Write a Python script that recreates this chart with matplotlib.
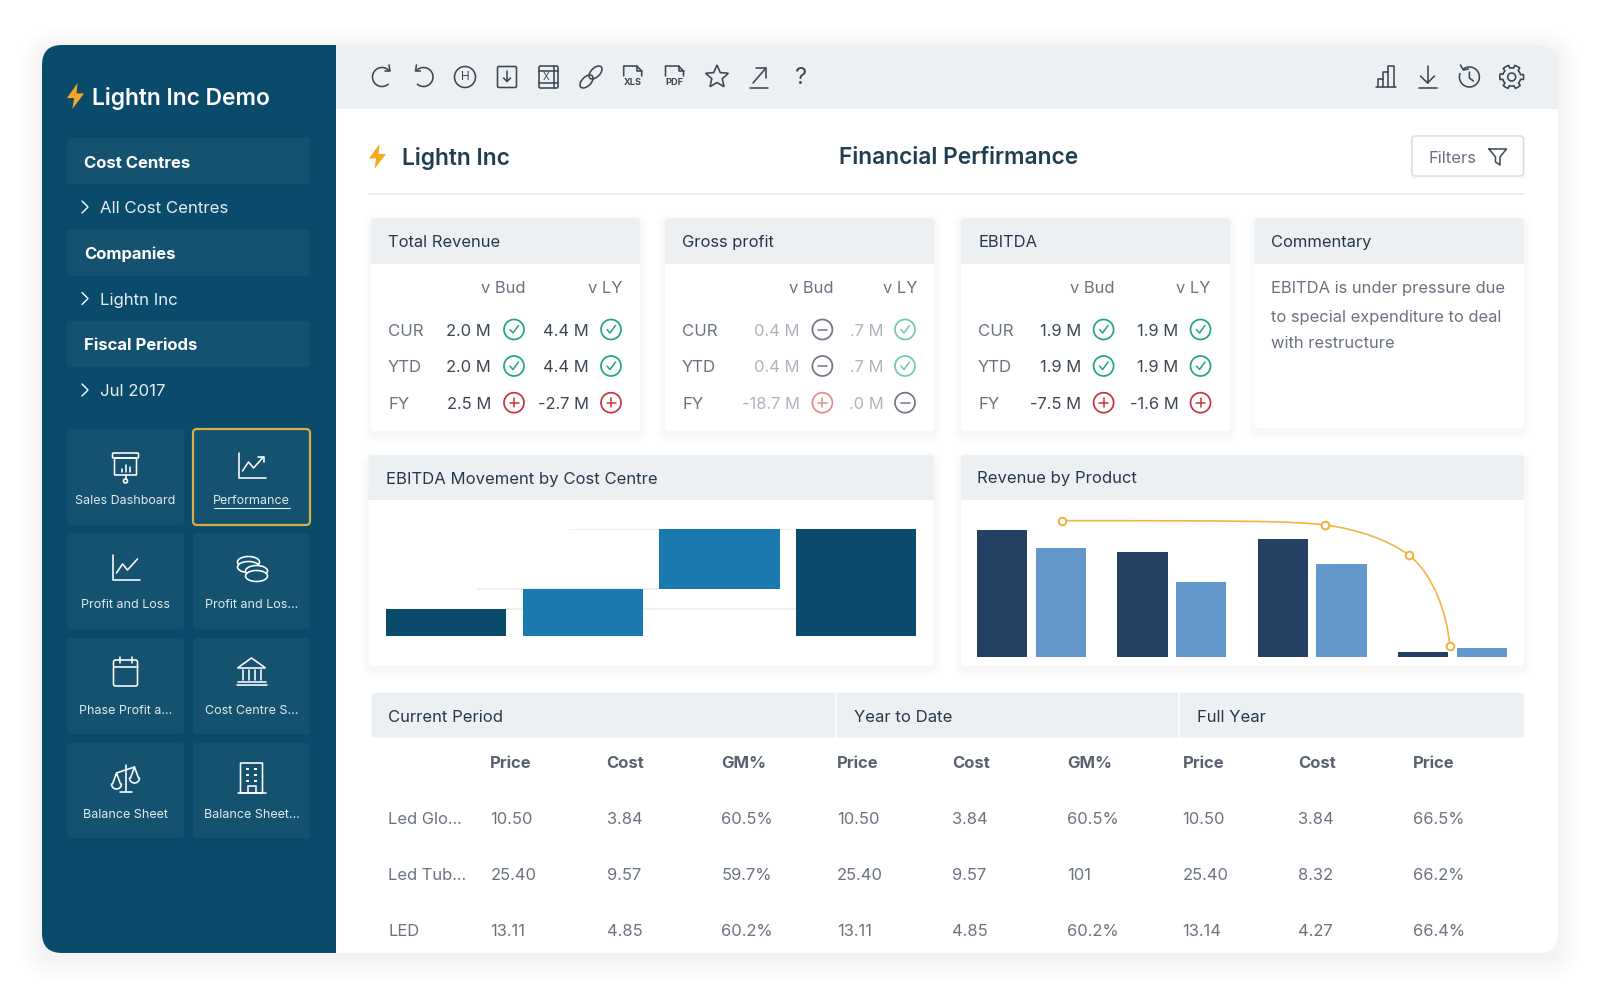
import numpy as np
import matplotlib
matplotlib.use("Agg")
import matplotlib.pyplot as plt
from matplotlib.patches import FancyBboxPatch, Rectangle, Circle, Ellipse, Polygon, PathPatch
from matplotlib.path import Path

plt.rcParams["font.family"] = ["Inter", "DejaVu Sans"]

# KPI cards
kpi_rows = ["CUR", "YTD", "FY"]
revenue_bud = ["2.0 M", "2.0 M", "2.5 M"]
revenue_ly = ["4.4 M", "4.4 M", "-2.7 M"]
revenue_bud_state = ["ok", "ok", "bad"]
revenue_ly_state = ["ok", "ok", "bad"]
gross_bud = ["0.4 M", "0.4 M", "-18.7 M"]
gross_ly = [".7 M", ".7 M", ".0 M"]
gross_bud_state = ["flat", "flat", "bad"]
gross_ly_state = ["ok", "ok", "flat"]
ebitda_bud = ["1.9 M", "1.9 M", "-7.5 M"]
ebitda_ly = ["1.9 M", "1.9 M", "-1.6 M"]
ebitda_bud_state = ["ok", "ok", "bad"]
ebitda_ly_state = ["ok", "ok", "bad"]
commentary = ["EBITDA is under pressure due", "to special expenditure to deal", "with restructure"]

# charts
movement_bottom = [0, 0, 47, 0]
movement_height = [26.7, 47, 59.7, 106.7]
product_dark = [127, 104.7, 118, 4.7]
product_light = [108.7, 74.7, 93, 9]
line_x = [0.22, 2.09, 2.69, 2.98]
line_y = [136, 131.7, 101.7, 11]

# table
table_groups = ["Current Period", "Year to Date", "Full Year"]
table_cols = ["Price", "Cost", "GM%", "Price", "Cost", "GM%", "Price", "Cost", "Price"]
table_names = ["Led Glo...", "Led Tub...", "LED"]
table_row1 = ["10.50", "3.84", "60.5%", "10.50", "3.84", "60.5%", "10.50", "3.84", "66.5%"]
table_row2 = ["25.40", "9.57", "59.7%", "25.40", "9.57", "101", "25.40", "8.32", "66.2%"]
table_row3 = ["13.11", "4.85", "60.2%", "13.11", "4.85", "60.2%", "13.14", "4.27", "66.4%"]

# sidebar
menu_heads = ["Cost Centres", "Companies", "Fiscal Periods"]
menu_items = ["All Cost Centres", "Lightn Inc", "Jul 2017"]
tile_labels = ["Sales Dashboard", "Performance", "Profit and Loss", "Profit and Los...",
               "Phase Profit a...", "Cost Centre S...", "Balance Sheet", "Balance Sheet..."]

NAVY = "#0a4a6b"
TILE = "#15526f"
PANEL = "#edf0f3"
INK = "#27384a"
GREY = "#6a7280"
ICON = "#3a4754"
BOLT = "#f7a823"
BODY = 11.9

fig = plt.figure(figsize=(16, 10), dpi=100, facecolor="white")
ui = fig.add_axes([0, 0, 1, 1])
ui.set_xlim(0, 1600)
ui.set_ylim(1000, 0)
ui.axis("off")


def box(x0, y0, x1, y1, color, r=4, z=1, ec="none", lw=0, alpha=None, clip=None):
    p = FancyBboxPatch((x0, y0), x1 - x0, y1 - y0, boxstyle=f"round,pad=0,rounding_size={r}",
                       fc=color, ec=ec, lw=lw, zorder=z, alpha=alpha)
    ui.add_patch(p)
    if clip is not None:
        p.set_clip_path(clip)
    return p


def shadow(x0, y0, x1, y1, r=4, spread=8, alpha=0.003, dy=4, z=0.5):
    for s in range(spread, 0, -1):
        box(x0 - s, y0 - s + dy, x1 + s, y1 + s + dy, "#2a3a4a", r=r + s, z=z, alpha=alpha)


def t(x, y, s, size=BODY, color=INK, weight="normal", ha="left", z=6, **kw):
    # text sits a little lower than its box centre in the reference
    return ui.text(x, y + 1.5, s, fontsize=size, color=color, fontweight=weight, ha=ha, va="center", zorder=z, **kw)


def ln(xs, ys, color=ICON, lw=1.15, z=6):
    ui.plot(xs, ys, color=color, lw=lw, zorder=z, solid_capstyle="round", solid_joinstyle="round")


def arc(x, y, r, a0, a1, color=ICON, lw=1.15):
    a = np.radians(np.linspace(a0, a1, 40))
    ln(x + r * np.cos(a), y - r * np.sin(a), color, lw)


def outline(x0, y0, x1, y1, color=ICON, lw=1.15, r=1.5):
    box(x0, y0, x1, y1, "none", r=r, z=6, ec=color, lw=lw)


def ring(x, y, r, color=ICON, lw=1.15):
    ui.add_patch(Circle((x, y), r, fc="none", ec=color, lw=lw, zorder=6))


def bolt(x0, y0, w, h):
    pts = [(0.62, 0), (0, 0.58), (0.42, 0.58), (0.32, 1), (1, 0.4), (0.56, 0.4)]
    ui.add_patch(Polygon([(x0 + a * w, y0 + b * h) for a, b in pts], fc=BOLT, ec="none", zorder=6))


# toolbar icons
def ic_redo(x, y):
    arc(x, y, 9.5, 45, 310)
    ln([x + 7, x + 8, x + 3], [y - 12, y - 6, y - 6])


def ic_undo(x, y):
    arc(x, y, 9.5, 135, -130)
    ln([x - 7, x - 8, x - 3], [y - 12, y - 6, y - 6])


def ic_home(x, y):
    ring(x, y, 10.5)
    t(x, y - 1.5, "H", 8.5, ICON, ha="center")


def ic_save(x, y):
    outline(x - 9.5, y - 10.5, x + 9.5, y + 10.5)
    ln([x, x], [y - 6, y + 4])
    ln([x - 3.5, x, x + 3.5], [y + 1, y + 4.5, y + 1])


def ic_excel(x, y):
    outline(x - 9.5, y - 11, x + 9.5, y + 11)
    ln([x - 9.5, x + 9.5], [y - 6, y - 6])
    ln([x - 9.5, x + 9.5], [y + 6, y + 6])
    ln([x + 5, x + 5], [y - 11, y + 11])
    t(x - 2, y - 1.5, "X", 7, ICON, ha="center")


def ic_link(x, y):
    for dx in (-4.5, 4.5):
        ui.add_patch(Ellipse((x + dx, y - dx), 16, 9, angle=-45, fc="none", ec=ICON, lw=1.15, zorder=6))


def ic_doc(label):
    def draw(x, y):
        ln([x - 9, x - 9, x + 4, x + 9, x + 9], [y - 1, y - 11, y - 11, y - 6, y - 1])
        ln([x + 4, x + 4, x + 9], [y - 11, y - 6, y - 6])
        t(x, y + 4, label, 6.6, ICON, "bold", ha="center")
    return draw


def ic_star(x, y):
    a = np.radians(90 + 36 * np.arange(10))
    r = np.where(np.arange(10) % 2 == 0, 12, 5.5)
    ui.add_patch(Polygon(np.c_[x + r * np.cos(a), y - r * np.sin(a)], fc="none", ec=ICON, lw=1.15, zorder=6))


def ic_export(x, y):
    ln([x - 6, x + 7], [y + 6, y - 9])
    ln([x - 3, x + 7, x + 7], [y - 9, y - 9, y + 1])
    ln([x - 9, x + 9], [y + 11, y + 11])


def ic_help(x, y):
    t(x, y - 1, "?", 17, ICON, ha="center")


def ic_bars(x, y):
    ln([x - 10, x + 10], [y + 10, y + 10])
    ln([x - 8, x - 8, x - 3, x - 3], [y + 10, y + 2, y + 2, y + 10])
    ln([x - 3, x - 3, x + 2, x + 2], [y + 2, y - 5, y - 5, y + 10])
    ln([x + 2, x + 2, x + 8, x + 8], [y - 5, y - 11, y - 11, y + 10])


def ic_down(x, y):
    ln([x, x], [y - 11, y + 6])
    ln([x - 7, x, x + 7], [y - 1, y + 6, y - 1])
    ln([x - 9, x + 9], [y + 11, y + 11])


def ic_hist(x, y):
    arc(x, y, 10, 125, -200)
    ln([x - 9, x - 6, x - 1], [y - 12, y - 7, y - 8])
    ln([x, x, x + 4], [y - 5, y + 1, y + 4])


def ic_gear(x, y):
    a = np.radians(np.arange(0, 360, 3))
    r = 10.5 + 1.4 * np.sign(np.cos(6 * a + np.pi))
    ui.add_patch(Polygon(np.c_[x + r * np.sin(a), y + r * np.cos(a)], fc="none", ec=ICON, lw=1.15, zorder=6))
    ring(x, y, 4)


# sidebar icons
W = "white"


def side_board(x, y):
    outline(x - 13, y - 13, x + 13, y - 8, W, r=1)
    outline(x - 11, y - 8, x + 11, y + 9, W, r=0.5)
    for dx, top in zip((-4, 0, 4), (3, -1, 1)):
        ln([x + dx, x + dx], [y + 6, y + top], W)
    ln([x, x], [y + 9, y + 13], W)
    ring(x, y + 15, 2, W)


def side_line(x, y):
    ln([x - 13, x - 13, x + 14], [y - 13, y + 12, y + 12], W)
    ln([x - 9, x - 3, x + 2, x + 12], [y + 5, y - 4, y + 2, y - 9], W)


def side_arrowline(x, y):
    side_line(x, y)
    ln([x + 6, x + 12, x + 12], [y - 9, y - 9, y - 4], W)


def side_coins(x, y):
    for dx, dy in ((-3, -6), (-3, -1), (5, 3), (5, 8)):
        ui.add_patch(Ellipse((x + dx, y + dy), 22, 11, fc=TILE, ec=W, lw=1.15, zorder=6))


def side_cal(x, y):
    outline(x - 12, y - 12, x + 12, y + 14, W, r=2)
    ln([x - 12, x + 12], [y - 5, y - 5], W)
    ln([x - 6, x - 6], [y - 15, y - 9], W)
    ln([x + 6, x + 6], [y - 15, y - 9], W)


def side_bank(x, y):
    ui.add_patch(Polygon([(x - 14, y - 4), (x, y - 14), (x + 14, y - 4)], fc="none", ec=W, lw=1.15, zorder=6))
    for dx in (-9, -3, 3, 9):
        ln([x + dx, x + dx], [y - 2, y + 8], W)
    ln([x - 14, x + 14], [y + 10, y + 10], W)
    ln([x - 15, x + 15], [y + 13, y + 13], W)


def side_scale(x, y):
    ln([x, x], [y - 13, y + 14], W)
    ln([x - 6, x + 6], [y + 14, y + 14], W)
    ln([x - 9, x + 9], [y - 5, y - 11], W)
    ln([x - 13, x - 9, x - 5], [y + 6, y - 5, y + 6], W)
    ln([x + 5, x + 9, x + 13], [y, y - 11, y], W)
    arc(x - 9, y + 6, 5, 180, 360, W)
    arc(x + 9, y, 5, 180, 360, W)


def side_building(x, y):
    outline(x - 11, y - 15, x + 11, y + 15, W, r=0.5)
    ln([x - 14, x + 14], [y + 15, y + 15], W)
    for dy in (-9, -3, 3):
        for dx in (-4, 4):
            ui.add_patch(Rectangle((x + dx - 1.3, y + dy - 1.3), 2.6, 2.6, fc=W, ec="none", zorder=6))
    ln([x - 4, x - 4, x + 4, x + 4], [y + 15, y + 8, y + 8, y + 15], W)


def status(x, y, state, faded=False):
    col = {"ok": "#1fa971", "bad": "#c8333c", "flat": "#6f7688"}[state]
    if faded:
        col = {"ok": "#6fcba6", "bad": "#e58b8b", "flat": "#6f7688"}[state]
    ring(x, y, 10, col, 1.25)
    if state == "ok":
        ln([x - 4, x - 1, x + 4.5], [y, y + 3.5, y - 4], col, 1.1)
    else:
        ln([x - 4.5, x + 4.5], [y, y], col, 1.1)
    if state == "bad":
        ln([x, x], [y - 4.5, y + 4.5], col, 1.1)


# outer card with its soft shadow
for s in range(24, 0, -2):
    box(42 - s, 45 - s + 6, 1558 + s, 953 + s + 6, "#22384a", r=20 + s, z=0.2, alpha=0.0025)
card = box(42, 45, 1558, 953, "white", r=20, z=0.4)
ui.add_patch(Rectangle((42, 45), 294, 908, fc=NAVY, ec="none", zorder=0.5, clip_path=card))
ui.add_patch(Rectangle((336, 45), 1222, 63.7, fc=PANEL, ec="none", zorder=0.5, clip_path=card))

# toolbar
top_icons = [ic_redo, ic_undo, ic_home, ic_save, ic_excel, ic_link, ic_doc("XLS"), ic_doc("PDF"), ic_star, ic_export, ic_help]
top_x = [382, 423.5, 465, 507, 548.5, 591, 632.7, 674.5, 717, 759, 801]
for draw, x in zip(top_icons, top_x):
    draw(x, 77)
for draw, x in zip([ic_bars, ic_down, ic_hist, ic_gear], [1385.7, 1427.5, 1469.4, 1511.7]):
    draw(x, 77)

# sidebar
bolt(67, 83, 17, 26)
t(92, 97, "Lightn Inc Demo", 16.4, W, "semibold")
for head, item, y0 in zip(menu_heads, menu_items, [138, 229.5, 321]):
    box(67, y0, 310, y0 + 46, TILE, r=4, z=1)
    t(84, y0 + 23.5, head, 12, W, "bold")
    ym = y0 + 69
    ln([82, 88, 82], [ym - 6, ym, ym + 6], W, 1.0)
    t(100.5, ym, item, 12.1, "#e6eef3")

tile_x = [(67, 184), (193, 310)]
tile_y = [(429, 525), (533, 629), (638, 734), (743, 838)]
tile_icons = [side_board, side_arrowline, side_line, side_coins, side_cal, side_bank, side_scale, side_building]
tile_icon_y = [466, 568, 672, 778]
for i, label in enumerate(tile_labels):
    row, col = i // 2, i % 2
    (x0, x1), (y0, y1) = tile_x[col], tile_y[row]
    sel = label == "Performance"
    box(x0, y0, x1, y1, TILE, r=4, z=1, ec="#d9ad45" if sel else "none", lw=1.6 if sel else 0)
    xc = (x0 + x1) / 2
    tile_icons[i](xc, tile_icon_y[row])
    ly = y0 + 71 if row else 499
    t(xc, ly, label, 9.0, "#dfe9ef", ha="center")
    if sel:
        ln([xc - 38, xc + 38], [ly + 9, ly + 9], "#dfe9ef", 0.8)

# page header
bolt(369, 144, 17, 25)
t(402.5, 157, "Lightn Inc", 16.4, "#1f3f50", "semibold")
t(839, 157, "Financial Perfirmance", 16.4, "#1f3f50", "semibold")
shadow(1412, 136, 1523.5, 176, r=3, spread=3, alpha=0.008, dy=2)
box(1412, 136, 1523.5, 176, "white", r=3, z=1, ec="#d7dbe0", lw=1)
t(1428.6, 157, "Filters", 12, GREY)
ln([1489, 1506.5, 1500, 1500, 1495.5, 1495.5, 1489], [149, 149, 157, 165, 162, 157, 149], ICON, 1.1)
ln([369, 1523.5], [194, 194], "#e3e6ea", 1.1, z=1)

# KPI cards
kpi_cards = [
    ("Total Revenue", 371, revenue_bud, revenue_ly, revenue_bud_state, revenue_ly_state, (154.5, 120, 143, 251.5, 218, 240), False),
    ("Gross profit", 665, gross_bud, gross_ly, gross_bud_state, gross_ly_state, (168.7, 135, 157.4, 252, 218.7, 240), True),
    ("EBITDA", 961, ebitda_bud, ebitda_ly, ebitda_bud_state, ebitda_ly_state, (153.8, 120.6, 142.6, 249.7, 217.6, 239.5), False),
]
row_y = [329.5, 366, 402.7]
for title, x0, bud, ly, bud_s, ly_s, off, faded in kpi_cards:
    x1 = x0 + 269
    shadow(x0, 218, x1, 431)
    box(x0, 218, x1, 431, "white", r=4, z=1)
    box(x0, 218, x1, 264, PANEL, r=4, z=1.2)
    ui.add_patch(Rectangle((x0, 258), 269, 6, fc=PANEL, ec="none", zorder=1.2))
    t(x0 + 17, 241, title)
    t(x0 + off[0], 287, "v Bud", BODY, GREY, ha="right")
    t(x0 + off[3], 287, "v LY", BODY, GREY, ha="right")
    val_col = "#aeb4bd" if faded else "#3b4655"
    for i, y in enumerate(row_y):
        t(x0 + 17, y + 0.5, kpi_rows[i], 12.1, GREY)
        t(x0 + off[1], y, bud[i], BODY, val_col, ha="right")
        status(x0 + off[2], y, bud_s[i], faded)
        t(x0 + off[4], y, ly[i], BODY, val_col, ha="right")
        status(x0 + off[5], y, ly_s[i], faded)

shadow(1254.6, 218, 1524, 428)
box(1254.6, 218, 1524, 428, "white", r=4, z=1)
box(1254.6, 218, 1524, 264, PANEL, r=4, z=1.2)
ui.add_patch(Rectangle((1254.6, 258), 269.4, 6, fc=PANEL, ec="none", zorder=1.2))
t(1271.4, 241, "Commentary")
for line, y in zip(commentary, [287, 315.7, 342.3]):
    t(1271.4, y, line, BODY, GREY)

# chart cards
for x0, x1, title, tx, ty in [(368.4, 933.7, "EBITDA Movement by Cost Centre", 386, 477.7),
                              (961, 1524, "Revenue by Product", 977, 476.7)]:
    shadow(x0, 455, x1, 665.5)
    box(x0, 455, x1, 665.5, "white", r=4, z=1)
    box(x0, 455, x1, 500, PANEL, r=4, z=1.2)
    ui.add_patch(Rectangle((x0, 494), x1 - x0, 6, fc=PANEL, ec="none", zorder=1.2))
    t(tx, ty, title, 12)


def chart_axes(x0, y_top, x1, y_base):
    ax = fig.add_axes([x0 / 1600, 1 - y_base / 1000, (x1 - x0) / 1600, (y_base - y_top) / 1000])
    ax.axis("off")
    ax.patch.set_alpha(0)
    return ax


# waterfall
wf = chart_axes(386, 529.3, 916.3, 636)
wf.set_xlim(-0.439, 3.439)
wf.set_ylim(0, 106.7)
wf.hlines([26.7, 47, 106.7], [0.44, 0.227, 0.9], [2.56, 1.56, 2.56], color="#eceef1", lw=1.3, zorder=1)
wf.bar(range(4), movement_height, bottom=movement_bottom, width=0.878,
       color=[NAVY, "#1a7aaf", "#1a7aaf", NAVY], zorder=2)

# revenue by product
rv = chart_axes(977, 516.7, 1507.7, 656.7)
rv.set_xlim(-0.389, 3.393)
rv.set_ylim(0, 140)
pos = np.arange(4)
rv.bar(pos - 0.209, product_dark, width=0.358, color="#244063", zorder=2)
rv.bar(pos + 0.209, product_light, width=0.358, color="#6498cc", zorder=2)
curve = Path(
    [(line_x[0], line_y[0]), (1.4, 136), (1.85, 136), (line_x[1], line_y[1]),
     (2.33, 127.5), (2.55, 116), (line_x[2], line_y[2]),
     (2.86, 82), (2.96, 45), (line_x[3], line_y[3])],
    [Path.MOVETO] + [Path.CURVE4] * 9)
rv.add_patch(PathPatch(curve, fc="none", ec="#f2b544", lw=1.2, zorder=3, clip_on=False))
rv.plot(line_x, line_y, ls="none", marker="o", ms=5.5, mfc="white", mec="#f2b036", mew=1.4, zorder=4, clip_on=False)

# table
box(371.4, 692.7, 1524, 737.7, PANEL, r=3, z=1)
for x in (835.7, 1179):
    ln([x, x], [692.7, 737.7], "white", 1.2, z=1.5)
for label, x in zip(table_groups, [388, 854, 1197]):
    t(x, 716, label, 12)
col_x = [490.3, 606.6, 721.4, 836.7, 952, 1067.3, 1182.6, 1298, 1413.3]
for label, x in zip(table_cols, col_x):
    t(x, 761.7, label, 12, "#5a6272", "bold")
for name, row, y in zip(table_names, [table_row1, table_row2, table_row3], [817.7, 874, 930.3]):
    t(388, y, name, BODY, GREY)
    for val, x in zip(row, col_x):
        t(x, y, val, BODY, GREY)

fig.savefig("out.png", dpi=100, facecolor="white")
